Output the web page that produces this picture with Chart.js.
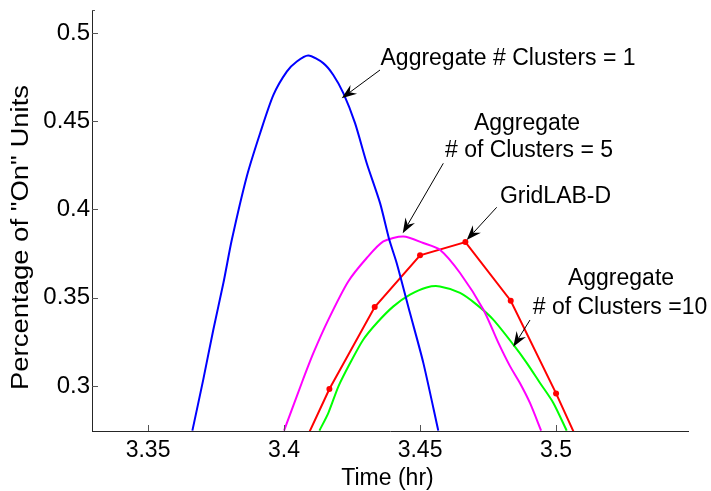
<!DOCTYPE html>
<html><head><meta charset="utf-8">
<script src="https://cdn.jsdelivr.net/npm/chart.js@4/dist/chart.umd.min.js"></script>
<style>html,body{margin:0;padding:0;background:#fff}#wrap{width:711px;height:491px;position:relative}</style>
</head><body><div id="wrap"><canvas id="c" width="711" height="491"></canvas></div>
<script>
// ---- data ----
const blueTime  = [3.3663,3.3703,3.3740,3.3777,3.3808,3.3863,3.3912,3.3961,3.4010,3.4047,3.4089,3.4144,3.4181,3.4218,3.4261,3.4304,3.4353,3.4387,3.4414,3.4463,3.4512,3.4567];
const blueValue = [0.2747,0.3036,0.3319,0.3583,0.3828,0.4187,0.4432,0.4649,0.4781,0.4838,0.4872,0.4829,0.4762,0.4659,0.4489,0.4262,0.4036,0.3828,0.3697,0.3413,0.3131,0.2747];

const magentaTime  = [3.4000,3.4065,3.4108,3.4163,3.4236,3.4304,3.4365,3.4439,3.4512,3.4573,3.4647,3.4733,3.4788,3.4831,3.4867,3.4904,3.4945];
const magentaValue = [0.2747,0.3017,0.3187,0.3376,0.3592,0.3725,0.3819,0.3847,0.3810,0.3772,0.3640,0.3432,0.3244,0.3111,0.3017,0.2904,0.2747];

const greenTime  = [3.4130,3.4163,3.4200,3.4243,3.4291,3.4341,3.4402,3.4463,3.4524,3.4573,3.4647,3.4708,3.4769,3.4843,3.4892,3.4941,3.4990,3.5039];
const greenValue = [0.2747,0.2848,0.2998,0.3130,0.3262,0.3357,0.3451,0.3517,0.3558,0.3564,0.3527,0.3461,0.3376,0.3234,0.3131,0.3017,0.2904,0.2747];

const gridlabTime  = [3.40000,3.41667,3.43333,3.45000,3.46667,3.48333,3.50000,3.51667];
const gridlabValue = [0.2430,0.2983,0.3447,0.3740,0.3815,0.3483,0.2958,0.2395];

const xTicks = [3.35,3.40,3.45,3.50];
const xTickLabels = ['3.35','3.4','3.45','3.5'];
const yTicks = [0.30,0.35,0.40,0.45,0.50];
const yTickLabels = ['0.3','0.35','0.4','0.45','0.5'];

const xTitle = 'Time (hr)';
const yTitle = 'Percentage of "On" Units';
const notes = [
  {lines:['Aggregate # Clusters = 1'], align:'left'},
  {lines:['Aggregate','# of Clusters = 5'], align:'center'},
  {lines:['GridLAB-D'], align:'center'},
  {lines:['Aggregate','# of Clusters =10'], align:'center'}
];

// ---- chart ----
const pts = (t, v) => t.map((x, i) => ({x: x, y: v[i]}));
const FONT = '"Liberation Sans", Arial, sans-serif';

function arrow(ctx, x1, y1, x2, y2) {
  ctx.save();
  ctx.strokeStyle = '#000'; ctx.fillStyle = '#000'; ctx.lineWidth = 1;
  const a = Math.atan2(y2 - y1, x2 - x1);
  const L = 15, W = 5.5, N = 10;
  const bx = x2 - N * Math.cos(a), by = y2 - N * Math.sin(a);
  ctx.beginPath(); ctx.moveTo(x1, y1); ctx.lineTo(bx, by); ctx.stroke();
  const px = -Math.sin(a), py = Math.cos(a);
  const cx = x2 - L * Math.cos(a), cy = y2 - L * Math.sin(a);
  ctx.beginPath();
  ctx.moveTo(x2, y2);
  ctx.lineTo(cx + W * px, cy + W * py);
  ctx.lineTo(bx, by);
  ctx.lineTo(cx - W * px, cy - W * py);
  ctx.closePath(); ctx.fill();
  ctx.restore();
}

const decor = {
  id: 'decor',
  afterDraw(chart) {
    const ctx = chart.ctx, ca = chart.chartArea;
    const xs = chart.scales.x, ys = chart.scales.y;
    ctx.save();
    // inward tick marks
    ctx.strokeStyle = '#555'; ctx.lineWidth = 1;
    ctx.beginPath();
    yTicks.forEach(v => { const y = Math.round(ys.getPixelForValue(v)) + 0.5; ctx.moveTo(ca.left, y); ctx.lineTo(ca.left + 6, y); });
    xTicks.forEach(v => { const x = Math.round(xs.getPixelForValue(v)) + 0.5; ctx.moveTo(x, ca.bottom); ctx.lineTo(x, ca.bottom - 6); });
    ctx.moveTo(ca.left, ca.top + 0.5); ctx.lineTo(ca.left + 3, ca.top + 0.5);
    ctx.stroke();

    ctx.fillStyle = '#000';
    ctx.font = '23px ' + FONT;
    // x title
    ctx.textAlign = 'center'; ctx.textBaseline = 'alphabetic';
    ctx.fillText(xTitle, 387.5, 485);
    // y title (rotated)
    ctx.save();
    ctx.translate(28, 237.5); ctx.rotate(-Math.PI / 2);
    const w = ctx.measureText(yTitle).width;
    ctx.scale(305 / w, 1);
    ctx.fillText(yTitle, 0, 0);
    ctx.restore();

    // annotations
    ctx.textAlign = 'left';
    ctx.fillText(notes[0].lines[0], 380.5, 65);
    ctx.textAlign = 'center';
    ctx.fillText(notes[1].lines[0], 527, 129.5);
    ctx.fillText(notes[1].lines[1], 529, 157);
    ctx.fillText(notes[2].lines[0], 555.5, 202.5);
    ctx.fillText(notes[3].lines[0], 621, 285);
    ctx.fillText(notes[3].lines[1], 620, 313.5);

    arrow(ctx, 380, 70, 341.7, 98.3);
    arrow(ctx, 443.3, 163.3, 402.7, 233.3);
    arrow(ctx, 496.7, 207.3, 466.7, 240);
    arrow(ctx, 530, 320, 513.3, 346.7);
    ctx.restore();
  }
};

const lineDs = (label, data, color, r, t) => ({
  label, data, borderColor: color, backgroundColor: color, borderWidth: 2,
  pointRadius: r, pointHoverRadius: r, pointBorderWidth: 0, tension: t, fill: false, clip: 0
});

new Chart(document.getElementById('c'), {
  type: 'line',
  data: {
    datasets: [
      lineDs('Aggregate # Clusters = 1', pts(blueTime, blueValue), '#0000ff', 0, 0.25),
      lineDs('Aggregate # of Clusters = 5', pts(magentaTime, magentaValue), '#ff00ff', 0, 0.25),
      lineDs('Aggregate # of Clusters = 10', pts(greenTime, greenValue), '#00ff00', 0, 0.25),
      lineDs('GridLAB-D', pts(gridlabTime, gridlabValue), '#ff0000', 3, 0)
    ]
  },
  options: {
    responsive: false, animation: false, devicePixelRatio: 1,
    layout: {padding: {top: 10, right: 23, left: 0, bottom: 0}},
    plugins: {legend: {display: false}, tooltip: {enabled: false}},
    scales: {
      x: {
        type: 'linear', min: 3.3294, max: 3.5485,
        afterFit: s => { s.height = 60; s.paddingLeft = 0; s.paddingRight = 0; s.paddingTop = 0; s.paddingBottom = 0; },
        afterBuildTicks: s => { s.ticks = xTicks.map(v => ({value: v})); },
        ticks: {autoSkip: false, maxRotation: 0, padding: 6, color: '#000',
                font: {family: FONT, size: 23}, callback: (v, i) => xTickLabels[i]},
        grid: {display: false, drawTicks: false},
        border: {display: true, color: '#262626', width: 1}
      },
      y: {
        type: 'linear', min: 0.2745, max: 0.5130,
        afterFit: s => { s.width = 92; s.paddingTop = 0; s.paddingBottom = 0; s.paddingLeft = 0; s.paddingRight = 0; },
        afterBuildTicks: s => { s.ticks = yTicks.map(v => ({value: v})); },
        ticks: {autoSkip: false, padding: 2, color: '#000',
                font: {family: FONT, size: 24}, callback: (v, i) => yTickLabels[i]},
        grid: {display: false, drawTicks: false},
        border: {display: true, color: '#262626', width: 1}
      }
    }
  },
  plugins: [decor]
});
</script></body></html>
